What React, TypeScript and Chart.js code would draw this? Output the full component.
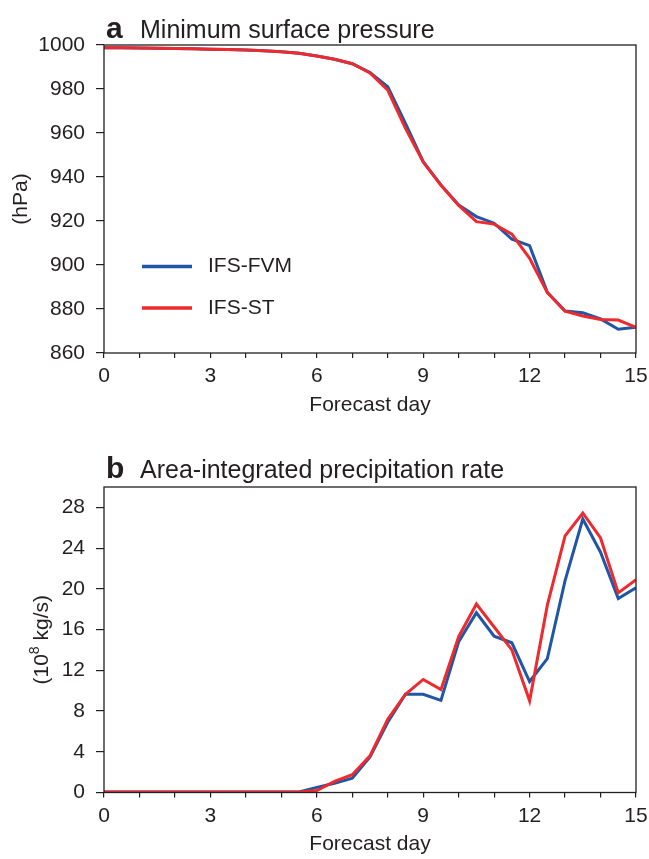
import React, { useEffect, useRef } from 'react';
import { Chart, registerables } from 'chart.js';

Chart.register(...registerables);

// ---------------- data ----------------
const days = [0, 0.5, 1, 1.5, 2, 2.5, 3, 3.5, 4, 4.5, 5, 5.5, 6, 6.5, 7, 7.5, 8, 8.5, 9, 9.5, 10, 10.5, 11, 11.5, 12, 12.5, 13, 13.5, 14, 14.5, 15];

const pressureFVM = [998.8, 998.7, 998.6, 998.5, 998.4, 998.3, 998.1, 997.9, 997.7, 997.4, 996.9, 996.2, 995.0, 993.5, 991.5, 987.5, 981.0, 964.4, 947.0, 936.4, 927.3, 922.0, 919.0, 911.7, 908.8, 887.6, 879.1, 878.3, 875.5, 870.8, 871.7];
const pressureST = [998.8, 998.7, 998.6, 998.5, 998.4, 998.3, 998.1, 997.9, 997.7, 997.4, 996.9, 996.2, 995.0, 993.5, 991.5, 987.3, 979.5, 962.1, 946.8, 936.2, 927.1, 919.7, 918.6, 914.0, 903.0, 887.4, 879.0, 876.8, 875.2, 875.0, 871.7];

const precipFVM = [0.05, 0.05, 0.05, 0.05, 0.05, 0.05, 0.05, 0.05, 0.05, 0.05, 0.05, 0.05, 0.5, 0.9, 1.4, 3.5, 6.9, 9.65, 9.65, 9.05, 14.8, 17.65, 15.35, 14.7, 10.9, 13.15, 20.8, 26.85, 23.6, 19.05, 20.1];
const precipST = [0.05, 0.05, 0.05, 0.05, 0.05, 0.05, 0.05, 0.05, 0.05, 0.05, 0.05, 0.05, 0.2, 1.1, 1.75, 3.6, 7.2, 9.65, 11.1, 10.1, 15.3, 18.5, 16.25, 14.0, 9.0, 18.4, 25.2, 27.45, 25.0, 19.6, 20.9];

const seriesNames = ['IFS-FVM', 'IFS-ST'];
const xTickValues = [0, 1, 2, 3, 4, 5, 6, 7, 8, 9, 10, 11, 12, 13, 14, 15];
const xTickLabels = [0, 3, 6, 9, 12, 15];
const pressureTicks = [860, 880, 900, 920, 940, 960, 980, 1000];
const precipTicks = [0, 4, 8, 12, 16, 20, 24, 28];

// ---------------- styles ----------------
const FONT = '"Liberation Sans", Arial, Helvetica, sans-serif';
const INK = '#231f20';
const BLUE = '#1f56a6';
const RED = '#ee2a2e';

type PanelProps = {
  letter: string;
  title: string;
  fvm: number[];
  st: number[];
  yMin: number;
  yMax: number;
  yTicks: number[];
  yTitle: string | null;
  height: number;
  padTop: number;
  xAxisHeight: number;
  xTitlePad: number;
  yTitlePad: number;
  titleBaseline: number;
  legend: boolean;
  customYTitle: null | { base: string; sup: string; rest: string; x: number };
};

function Panel(props: PanelProps) {
  const ref = useRef<HTMLCanvasElement | null>(null);

  useEffect(() => {
    const canvas = ref.current;
    if (!canvas) return;

    const framePlugin = {
      id: 'frame',
      afterDatasetsDraw(chart: any) {
        const { ctx, chartArea } = chart;
        ctx.save();
        ctx.strokeStyle = INK;
        ctx.lineWidth = 1.3;
        ctx.strokeRect(chartArea.left, chartArea.top, chartArea.right - chartArea.left, chartArea.bottom - chartArea.top);
        ctx.restore();
      },
    };

    const textPlugin = {
      id: 'panelText',
      afterDraw(chart: any) {
        const { ctx, chartArea, data } = chart;
        ctx.save();
        ctx.fillStyle = INK;
        ctx.textBaseline = 'alphabetic';
        ctx.textAlign = 'left';
        ctx.font = `bold 30px ${FONT}`;
        ctx.fillText(props.letter, 106, props.titleBaseline);
        ctx.font = `25px ${FONT}`;
        ctx.fillText(props.title, 140, props.titleBaseline);

        if (props.legend) {
          const rows = [
            { y: 266.5, color: data.datasets[1].borderColor, label: data.datasets[1].label },
            { y: 308, color: data.datasets[0].borderColor, label: data.datasets[0].label },
          ];
          ctx.font = `21px ${FONT}`;
          ctx.textBaseline = 'middle';
          rows.forEach((r) => {
            ctx.strokeStyle = r.color;
            ctx.lineWidth = 3.3;
            ctx.beginPath();
            ctx.moveTo(142, r.y);
            ctx.lineTo(192, r.y);
            ctx.stroke();
            ctx.fillStyle = INK;
            ctx.fillText(r.label, 208, r.y);
          });
        }

        if (props.customYTitle) {
          const t = props.customYTitle;
          const cy = (chartArea.top + chartArea.bottom) / 2;
          ctx.translate(t.x, cy);
          ctx.rotate(-Math.PI / 2);
          ctx.fillStyle = INK;
          ctx.textBaseline = 'middle';
          ctx.font = `21px ${FONT}`;
          const w1 = ctx.measureText(t.base).width;
          const w3 = ctx.measureText(t.rest).width;
          ctx.font = `14px ${FONT}`;
          const w2 = ctx.measureText(t.sup).width;
          const total = w1 + w2 + w3;
          let x = -total / 2;
          ctx.font = `21px ${FONT}`;
          ctx.fillText(t.base, x, 0);
          x += w1;
          ctx.font = `14px ${FONT}`;
          ctx.fillText(t.sup, x, -7);
          x += w2;
          ctx.font = `21px ${FONT}`;
          ctx.fillText(t.rest, x, 0);
        }
        ctx.restore();
      },
    };

    const tickFont = { family: FONT, size: 21 };

    const chart = new Chart(canvas, {
      type: 'line',
      data: {
        datasets: [
          {
            label: seriesNames[1],
            data: days.map((d, i) => ({ x: d, y: props.st[i] })),
            borderColor: RED,
            borderWidth: 3,
            pointRadius: 0,
            tension: 0,
            fill: false,
            order: 0,
          },
          {
            label: seriesNames[0],
            data: days.map((d, i) => ({ x: d, y: props.fvm[i] })),
            borderColor: BLUE,
            borderWidth: 3,
            pointRadius: 0,
            tension: 0,
            fill: false,
            order: 1,
          },
        ],
      },
      options: {
        animation: false,
        responsive: false,
        devicePixelRatio: 1,
        layout: { padding: { top: props.padTop, right: 13, bottom: 0, left: 0 } },
        plugins: {
          legend: { display: false },
          tooltip: { enabled: false },
          title: { display: false },
        },
        scales: {
          x: {
            type: 'linear',
            min: 0,
            max: 15,
            afterBuildTicks: (s: any) => {
              s.ticks = xTickValues.map((v) => ({ value: v }));
            },
            afterFit: (s: any) => {
              s.height = props.xAxisHeight;
              s.paddingLeft = 0;
              s.paddingRight = 0;
            },
            ticks: {
              autoSkip: false,
              maxRotation: 0,
              padding: 6,
              color: INK,
              font: tickFont,
              callback: (v: any) => (xTickLabels.includes(Number(v)) ? String(v) : ''),
            },
            grid: { drawOnChartArea: false, drawTicks: true, tickLength: 5, color: INK, lineWidth: 1.2 },
            border: { display: false },
            title: {
              display: true,
              text: 'Forecast day',
              color: INK,
              font: tickFont,
              padding: { top: 0, bottom: props.xTitlePad },
            },
          },
          y: {
            type: 'linear',
            min: props.yMin,
            max: props.yMax,
            afterBuildTicks: (s: any) => {
              s.ticks = props.yTicks.map((v) => ({ value: v }));
            },
            afterFit: (s: any) => {
              s.width = 104;
              s.paddingTop = 0;
              s.paddingBottom = 0;
            },
            ticks: { padding: 11, color: INK, font: tickFont, callback: (v: any) => String(v) },
            grid: { drawOnChartArea: false, drawTicks: true, tickLength: 8, color: INK, lineWidth: 1.2 },
            border: { display: false },
            title: {
              display: !!props.yTitle,
              text: props.yTitle || '',
              color: INK,
              font: tickFont,
              padding: { top: props.yTitlePad, bottom: 0 },
            },
          },
        },
      },
      plugins: [framePlugin, textPlugin],
    } as any);

    return () => {
      chart.destroy();
    };
  }, []);

  return <canvas ref={ref} width={649} height={props.height} style={{ display: 'block', width: 649, height: props.height }} />;
}

export default function App() {
  return (
    <div style={{ position: 'fixed', left: 0, top: 0, width: 649, height: 859, background: '#ffffff' }}>
      <Panel
        letter="a"
        title="Minimum surface pressure"
        fvm={pressureFVM}
        st={pressureST}
        yMin={860}
        yMax={1000}
        yTicks={pressureTicks}
        yTitle="(hPa)"
        height={430}
        padTop={45}
        xAxisHeight={77}
        xTitlePad={12}
        yTitlePad={8.4}
        titleBaseline={37.5}
        legend={true}
        customYTitle={null}
      />
      <Panel
        letter="b"
        title="Area-integrated precipitation rate"
        fvm={precipFVM}
        st={precipST}
        yMin={0}
        yMax={30}
        yTicks={precipTicks}
        yTitle={null}
        height={429}
        padTop={57}
        xAxisHeight={66.5}
        xTitlePad={2.4}
        yTitlePad={0}
        titleBaseline={47.5}
        legend={false}
        customYTitle={{ base: '(10', sup: '8', rest: ' kg/s)', x: 42 }}
      />
    </div>
  );
}
